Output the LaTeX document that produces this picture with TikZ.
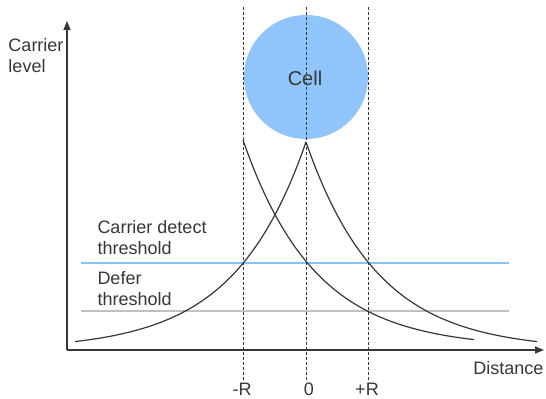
\documentclass[tikz,border=0pt]{standalone}
\usepackage{fontspec}
\setmainfont{Liberation Sans}
\usetikzlibrary{arrows.meta,positioning}
\definecolor{cellblue}{RGB}{143,197,250}
\definecolor{cdblue}{RGB}{135,194,242}
\definecolor{defergray}{RGB}{192,192,192}
\definecolor{inkgray}{RGB}{55,55,55}
\tikzset{every picture/.style={line width=0.5pt}}

\begin{document}
\begin{tikzpicture}[x=0.5pt,y=-0.5pt,
    lbl/.style={inner sep=0pt, text=inkgray, font=\fontsize{9}{10.5}\selectfont, align=left},
    axis/.style={draw=inkgray, line width=0.7pt, -{Triangle[length=4.5pt,width=3.5pt]}},
    guide/.style={draw=inkgray, dash pattern=on 1.5pt off 1pt},
    thr/.style={line width=1.3pt},
    signal/.style={draw=inkgray, line width=0.6pt, domain=0:231, samples=120}]
    \useasboundingbox (0,0) rectangle (546,399);

    % cell area
    \fill[cellblue] (306,77) circle (62);
    \node[lbl, font=\fontsize{10}{12}\selectfont] (cell) at (305,78) {Cell};

    % axes
    \coordinate (org) at (67,350);
    \coordinate (ytip) at (67,21);
    \coordinate (xtip) at (544,350);
    \draw[axis] (org) -- (ytip);
    \draw[axis] (org) -- (xtip);
    \node[lbl, anchor=west] (ylab) at (8,56) {Carrier\\level};
    \node[lbl, anchor=east] (xlab) at (544,368) {Distance};

    % thresholds
    \coordinate (cd-l) at (81,263);
    \coordinate (cd-r) at (509,263);
    \coordinate (df-l) at (81,311);
    \coordinate (df-r) at (509,311);
    \draw[thr, cdblue] (cd-l) -- (cd-r);
    \draw[thr, defergray] (df-l) -- (df-r);
    \node[lbl, anchor=west] (cdlab) at (97,238) {Carrier detect\\threshold};
    \node[lbl, anchor=west] (dflab) at (97,289) {Defer\\threshold};

    % distance marks
    \node[lbl] (mR) at (242,389) {-R};
    \node[lbl] (zero) at (309,389) {0};
    \node[lbl] (pR) at (367,389) {+R};
    \coordinate (mR-t) at (243,7);
    \coordinate (zero-t) at (306,7);
    \coordinate (pR-t) at (368,7);
    \draw[guide] (mR-t) -- (mR-t |- 0,381);
    \draw[guide] (zero-t) -- (zero-t |- 0,381);
    \draw[guide] (pR-t) -- (pR-t |- 0,381);

    % carrier level curves
    \draw[signal] plot ({306-\x}, {142+208*(1-exp(-\x/72))});
    \draw[signal] plot ({306+\x}, {142+208*(1-exp(-\x/72))});
    \draw[signal] plot ({243+\x}, {140+208*(1-exp(-\x/72))});
\end{tikzpicture}
\end{document}
